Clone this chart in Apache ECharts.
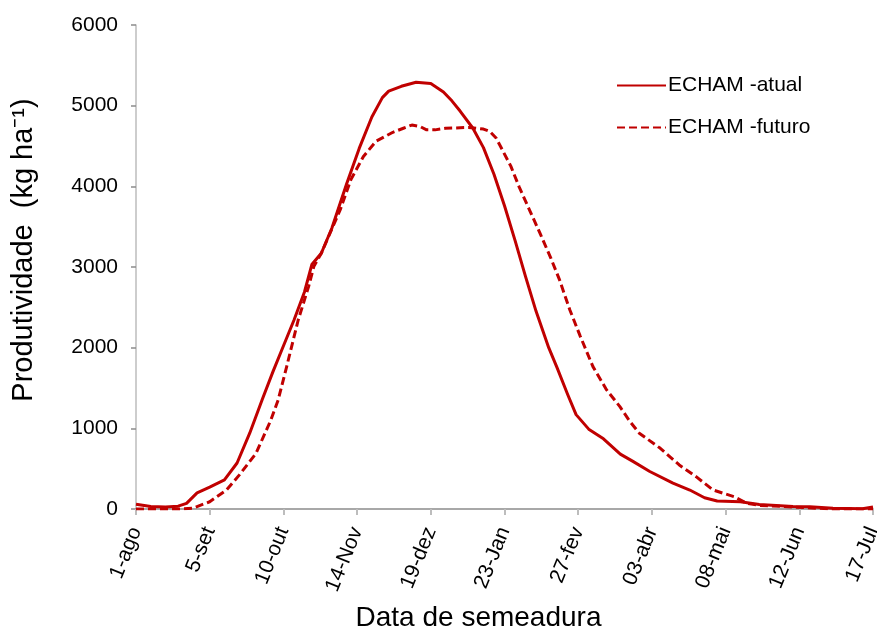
<!DOCTYPE html>
<html>
<head>
<meta charset="utf-8">
<script src="https://cdn.jsdelivr.net/npm/echarts@6/dist/echarts.min.js"></script>
<style>
html,body{margin:0;padding:0;background:#fff;}
#chart{width:877px;height:628px;}
</style>
</head>
<body>
<div id="chart"></div>
<script>
// Tick labels (every 35 days from 1-ago)
var tickLabels = ['1-ago','5-set','10-out','14-Nov','19-dez','23-Jan','27-fev','03-abr','08-mai','12-Jun','17-Jul'];
var seriesNames = ['ECHAM -atual','ECHAM -futuro'];

// ECHAM - atual: day since 1-ago, yield (kg/ha)
var atualDias = [0,7,14,20,24,29,35,42,48,54,60,65,70,75,80,83.5,88,93,100,106,112,117,120,126,133,140,146,150,154,160,165,170,175,180,185,190,196,200,205,209,215,222,230,236,244,255,263,270,276,287,296,312,320,331,345,350];
var atualValores = [60,30,25,35,70,200,270,360,570,940,1360,1700,2020,2340,2690,3030,3170,3480,4030,4470,4860,5100,5180,5240,5290,5275,5170,5060,4930,4720,4480,4150,3760,3330,2880,2450,2000,1750,1420,1170,990,870,680,590,465,320,235,140,100,90,55,30,28,8,2,25];

// ECHAM - futuro
var futuroDias = [0,14,21,27,35,43,49,57,64,67.5,71.5,77,82,84.5,88,97,102,108,114,122,127,131,135,138,142,147,158,165,168,171,174,178,182,187,192,197,201,206,211,217,223.5,229.8,234.6,239,249,258,266,274,284,290,296,312,331,350];
var futuroValores = [0,0,0,10,90,236,420,690,1100,1350,1760,2340,2760,3010,3170,3710,4080,4370,4560,4670,4720,4760,4740,4700,4700,4720,4730,4710,4680,4600,4450,4250,3990,3700,3410,3110,2850,2470,2140,1765,1476,1269,1083,940,752,546,401,236,153,70,45,25,0,0];

function pairs(xs, ys){ return xs.map(function(x,i){ return [x, ys[i]]; }); }

var red = '#C00000';
var font = 'Liberation Sans, Arial, sans-serif';
var chart = echarts.init(document.getElementById('chart'), null, {renderer:'canvas'});
chart.setOption({
  animation:false,
  backgroundColor:'#ffffff',
  textStyle:{fontFamily:font, color:'#000'},
  grid:{left:136, right:4, top:25, bottom:119, containLabel:false, outerBoundsMode:'none'},
  legend:{
    orient:'vertical', left:611, top:70,
    itemWidth:49, itemHeight:21, itemGap:21,
    itemStyle:{opacity:0},
    textStyle:{fontSize:21, color:'#000', fontFamily:font, padding:[0,0,0,-3]},
    data:[{name:seriesNames[0]},{name:seriesNames[1]}]
  },
  xAxis:{
    type:'value', min:0, max:350, interval:35,
    name:'Data de semeadura', nameLocation:'middle', nameGap:95,
    nameTextStyle:{fontSize:28, color:'#000', fontFamily:font, padding:[0,52,0,0]},
    axisLine:{show:true, onZero:false, lineStyle:{color:'#8c8c8c', width:1.5}},
    axisTick:{show:true, length:6, lineStyle:{color:'#bdbdbd', width:2}},
    splitLine:{show:false},
    axisLabel:{
      rotate:68, margin:19, fontSize:21, color:'#000', fontFamily:font,
      formatter:function(v){ var i=Math.round(v/35); return tickLabels[i]||''; }
    }
  },
  yAxis:{
    type:'value', min:0, max:6000, interval:1000,
    name:'Produtividade  (kg ha⁻¹)', nameLocation:'middle', nameGap:98, nameRotate:90,
    nameTextStyle:{fontSize:29, color:'#000', fontFamily:font, padding:[0,0,0,34]},
    axisLine:{show:true, lineStyle:{color:'#bdbdbd', width:1.5}},
    axisTick:{show:true, length:5, lineStyle:{color:'#8c8c8c', width:1.5}},
    splitLine:{show:false},
    axisLabel:{fontSize:21, color:'#000', margin:18, fontFamily:font,
      formatter:function(v){ return String(v); }}
  },
  series:[
    {name:seriesNames[0], type:'line', data:pairs(atualDias, atualValores),
     showSymbol:false, symbol:'none', smooth:false,
     lineStyle:{color:red, width:3, join:'round'}, itemStyle:{color:red}},
    {name:seriesNames[1], type:'line', data:pairs(futuroDias, futuroValores),
     showSymbol:false, symbol:'none', smooth:false,
     lineStyle:{color:red, width:3, type:[8,4]}, itemStyle:{color:red}}
  ]
});
</script>
</body>
</html>
